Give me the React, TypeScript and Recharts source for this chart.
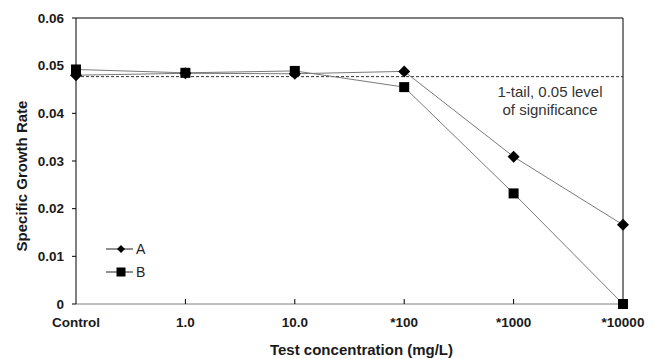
import {
  Legend,
  Line,
  LineChart,
  ReferenceLine,
  XAxis,
  YAxis,
  Label,
} from "recharts";

const CATEGORIES = ["Control", "1.0", "10.0", "*100", "*1000", "*10000"];
const SERIES_A = [0.0480, 0.0484, 0.0483, 0.0488, 0.0309, 0.0166];
const SERIES_B = [0.0492, 0.0485, 0.0489, 0.0455, 0.0232, 0.0];
const Y_TICKS = [0, 0.01, 0.02, 0.03, 0.04, 0.05, 0.06];
const SIGNIFICANCE = 0.0477;

const data = CATEGORIES.map((c, i) => ({ c, a: SERIES_A[i], b: SERIES_B[i] }));

const FONT = '"Liberation Sans", Arial, sans-serif';
const LINE = "#7a7a7a";

function Diamond({ cx, cy, size = 6 }: { cx?: number; cy?: number; size?: number }) {
  if (cx == null || cy == null) return null;
  const r = size;
  return (
    <path
      d={`M${cx},${cy - r} L${cx + r},${cy} L${cx},${cy + r} L${cx - r},${cy} Z`}
      fill="#000"
    />
  );
}

function Square({ cx, cy, size = 5 }: { cx?: number; cy?: number; size?: number }) {
  if (cx == null || cy == null) return null;
  const r = size;
  return <rect x={cx - r} y={cy - r} width={r * 2} height={r * 2} fill="#000" />;
}

function XTick({ x, y, payload, index }: any) {
  const inner = index > 0 && index < CATEGORIES.length - 1;
  return (
    <g>
      {inner && <line x1={x} x2={x} y1={y} y2={y - 5} stroke="#000" strokeWidth={1} />}
      <text
        x={x}
        y={y + 23}
        textAnchor="middle"
        fontSize={13.5}
        fontWeight="bold"
        fill="#1a1a1a"
        fontFamily={FONT}
      >
        {payload.value}
      </text>
    </g>
  );
}

function LegendBox() {
  const rows = [
    { name: "A", shape: "diamond" },
    { name: "B", shape: "square" },
  ];
  return (
    <svg width={60} height={50}>
      {rows.map((r, i) => {
        const y = 9 + i * 23;
        return (
          <g key={r.name}>
            <line x1={6} x2={33} y1={y} y2={y} stroke="#222" strokeWidth={1} />
            {r.shape === "diamond" ? (
              <Diamond cx={21} cy={y} size={4} />
            ) : (
              <Square cx={21} cy={y} size={4.5} />
            )}
            <text x={36} y={y + 5} fontSize={14} fill="#222" fontFamily={FONT}>
              {r.name}
            </text>
          </g>
        );
      })}
    </svg>
  );
}

export default function App() {
  return (
    <div style={{ position: "absolute", left: 0, top: 0, background: "#fff" }}>
      <LineChart
        width={656}
        height={359}
        data={data}
        margin={{ top: 18, right: 33, bottom: 54, left: 0 }}
        style={{ fontFamily: FONT }}
      >
        <XAxis
          dataKey="c"
          height={1}
          stroke="#808080"
          tickSize={0}
          tickMargin={0}
          tick={<XTick />}
          interval={0}
        >
          <Label
            content={({ viewBox }: any) => (
              <text
                x={viewBox.x + viewBox.width / 2 + 12}
                y={355}
                textAnchor="middle"
                fontSize={15}
                fontWeight="bold"
                fill="#1a1a1a"
                fontFamily={FONT}
              >
                Test concentration (mg/L)
              </text>
            )}
          />
        </XAxis>
        <YAxis
          width={76}
          domain={[0, 0.06]}
          ticks={Y_TICKS}
          stroke="#000"
          tickSize={4}
          tickMargin={8}
          tickFormatter={(v: number) => (v === 0 ? "0" : v.toFixed(2))}
          tick={{ fontSize: 13.5, fontWeight: "bold", fill: "#1a1a1a" }}
        >
          <Label
            content={() => (
              <text
                x={27}
                y={176}
                transform="rotate(-90, 27, 176)"
                textAnchor="middle"
                fontSize={15}
                fontWeight="bold"
                fill="#1a1a1a"
                fontFamily={FONT}
              >
                Specific Growth Rate
              </text>
            )}
          />
        </YAxis>
        <ReferenceLine y={0.06} stroke="#000" />
        <ReferenceLine x="*10000" stroke="#000" />
        <ReferenceLine
          y={SIGNIFICANCE}
          stroke="#333"
          strokeDasharray="3 2"
          label={({ viewBox }: any) => (
            <g>
              <text
                x={viewBox.x + viewBox.width - 73}
                y={viewBox.y + 20}
                textAnchor="middle"
                fontSize={15}
                fill="#333"
                fontFamily={FONT}
              >
                1-tail, 0.05 level
              </text>
              <text
                x={viewBox.x + viewBox.width - 73}
                y={viewBox.y + 38}
                textAnchor="middle"
                fontSize={15}
                fill="#333"
                fontFamily={FONT}
              >
                of significance
              </text>
            </g>
          )}
        />
        <Line
          dataKey="a"
          name="A"
          stroke={LINE}
          strokeWidth={1}
          dot={(p: any) => <Diamond key={`a${p.index}`} cx={p.cx} cy={p.cy} />}
          activeDot={false}
          isAnimationActive={false}
        />
        <Line
          dataKey="b"
          name="B"
          stroke={LINE}
          strokeWidth={1}
          dot={(p: any) => <Square key={`b${p.index}`} cx={p.cx} cy={p.cy} />}
          activeDot={false}
          isAnimationActive={false}
        />
        <Legend
          layout="vertical"
          align="center"
          verticalAlign="middle"
          wrapperStyle={{ left: 100, top: 240, width: 60 }}
          content={() => <LegendBox />}
        />
      </LineChart>
    </div>
  );
}
